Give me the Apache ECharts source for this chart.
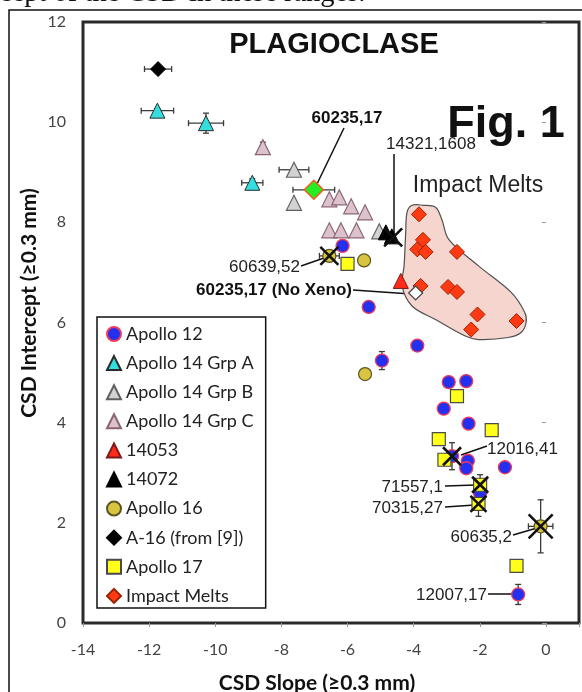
<!DOCTYPE html>
<html><head><meta charset="utf-8">
<script src="https://cdn.jsdelivr.net/npm/echarts@6/dist/echarts.min.js"></script>
<style>html,body{margin:0;padding:0;background:#fff}#c{width:582px;height:692px}</style>
</head><body><div id="c"></div>
<script>
// ---------- data (CSD slope, CSD intercept) ----------
const xTicks = [-14, -12, -10, -8, -6, -4, -2, 0];
const yTicks = [0, 2, 4, 6, 8, 10, 12];
const legendNames = ['Apollo 12', 'Apollo 14 Grp A', 'Apollo 14 Grp B', 'Apollo 14 Grp C', '14053', '14072', 'Apollo 16', 'A-16 (from [9])', 'Apollo 17', 'Impact Melts'];

const apollo12 = [[-6.15,7.53],[-5.36,6.31],[-3.89,5.54],[-4.96,5.24],[-2.94,4.81],[-2.41,4.83],[-3.09,4.28],[-2.34,3.98],[-2.84,3.33],[-2.36,3.24],[-2.41,3.09],[-1.24,3.11],[-1.99,2.59],[-0.84,0.57]];
const apollo14A = [[-11.75,10.23],[-10.28,9.98],[-8.88,8.79]];
const apollo14B = [[-7.62,9.05],[-7.62,8.39],[-5.04,7.82]];
const apollo14C = [[-8.56,9.5],[-6.55,8.46],[-6.25,8.5],[-5.89,8.32],[-5.47,8.2],[-6.55,7.84],[-6.2,7.84],[-5.73,7.84]];
const s14053 = [[-4.39,6.83]];
const s14072 = [[-4.84,7.8],[-4.66,7.72]];
const apollo16 = [[-6.55,7.33],[-5.5,7.24],[-5.47,4.97],[-0.16,1.93]];
const a16From9 = [[-11.73,11.06]];
const apollo17 = [[-6.0,7.17],[-2.69,4.53],[-1.64,3.85],[-3.24,3.67],[-3.07,3.26],[-1.99,2.76],[-2.04,2.38],[-0.89,1.14]];
const impactMelts = [[-3.84,8.16],[-3.72,7.65],[-3.89,7.46],[-3.64,7.41],[-2.69,7.41],[-3.79,6.73],[-2.96,6.71],[-2.69,6.61],[-2.07,6.16],[-2.26,5.86],[-0.89,6.03]];
const sample60235 = [[-7.02,8.65]];
const sample60235NoXeno = [[-3.94,6.59]];
// samples marked with a cross: 60639,52 / 71557,1 / 70315,27 / 12016,41 / 14321,1608 / 60635,2
const crossed = [[-6.55,7.33],[-1.99,2.76],[-2.04,2.38],[-2.84,3.33],[-4.62,7.7],[-0.16,1.93]];
// error bars: [x, y, xErr, yErr]
const errorBars = [[-11.73,11.06,0.41,0],[-11.75,10.23,0.49,0.04],[-10.28,9.98,0.53,0.2],[-8.88,8.79,0.32,0.08],[-7.62,9.05,0.45,0],[-7.02,8.65,0.63,0],[-6.55,7.33,0.3,0],[-4.96,5.24,0,0.18],[-2.84,3.33,0.15,0.27],[-1.99,2.76,0,0.2],[-2.04,2.38,0,0.25],[-0.16,1.93,0.37,0.53],[-0.84,0.57,0,0.2],[-8.56,9.5,0,0.1]];
// impact-melt field outline
const meltField = [[-4.05,8.34],[-3.7,8.34],[-3.34,8.3],[-3.15,8.06],[-2.94,7.66],[-2.04,7.13],[-1.05,6.6],[-0.64,6.2],[-0.6,6.0],[-0.75,5.8],[-1.14,5.7],[-2.04,5.66],[-2.44,5.73],[-3.34,6.06],[-4.05,6.33],[-4.35,6.73],[-4.29,7.13],[-4.24,7.8],[-4.2,8.2]];

// ---------- chart ----------
const chart = echarts.init(document.getElementById('c'), null, {renderer: 'canvas'});
const crossSizes = [9, 8, 8, 9, 9, 12];

function sc(name, data, symbol, size, fill, stroke, bw, z) {
  return {type: 'scatter', name, data, symbol, symbolSize: size, z: z || 3,
    itemStyle: {color: fill, borderColor: stroke, borderWidth: bw, opacity: 1}};
}

const option = {
  animation: false,
  backgroundColor: '#fff',
  grid: {left: 83, right: 2, top: 22, bottom: 69, show: true, borderColor: '#2a2a2a', borderWidth: 3, backgroundColor: '#fff'},
  xAxis: {type: 'value', min: -14, max: 1, interval: 2,
    axisLine: {show: false}, splitLine: {show: false},
    axisTick: {show: true, length: 4, lineStyle: {color: '#999'}},
    axisLabel: {margin: 19, fontFamily: 'Lato', fontSize: 16, color: '#444',
      formatter: v => xTicks.indexOf(v) >= 0 ? String(v) : ''}},
  yAxis: {type: 'value', min: 0, max: 12, interval: 2,
    axisLine: {show: false}, splitLine: {show: false},
    axisTick: {show: true, length: 4, lineStyle: {color: '#999'}},
    axisLabel: {margin: 17, fontFamily: 'Lato', fontSize: 16, color: '#444',
      formatter: v => yTicks.indexOf(v) >= 0 ? String(v) : ''}},
  legend: {orient: 'vertical', left: 97, top: 317, padding: [8, 12, 3, 9], itemGap: 11.1,
    itemWidth: 14, itemHeight: 14, borderColor: '#111', borderWidth: 1.5, backgroundColor: '#fff',
    textStyle: {fontFamily: 'Lato', fontSize: 18, color: '#222'}, data: legendNames, selectedMode: false},
  series: [
    {type: 'custom', name: 'field', data: [meltField[0]], z: 1, silent: true,
      renderItem: (p, api) => ({type: 'polygon', shape: {points: meltField.map(q => api.coord(q)), smooth: 0.35},
        style: {fill: '#f6d5cf', stroke: '#505050', lineWidth: 1.2}})},
    {type: 'custom', name: 'err', data: errorBars, z: 2, silent: true, dimensions: ['x','y','xe','ye'], encode: {x: 0, y: 1},
      renderItem: (p, api) => {
        const x = api.value(0), y = api.value(1), xe = api.value(2), ye = api.value(3);
        const st = {stroke: '#3a3a3a', lineWidth: 1.3};
        const ch = [];
        const L = (a, b, c, d) => ch.push({type: 'line', shape: {x1: a, y1: b, x2: c, y2: d}, style: st});
        if (xe > 0) {
          const a = api.coord([x - xe, y]), b = api.coord([x + xe, y]);
          L(a[0], a[1], b[0], b[1]); L(a[0], a[1] - 3, a[0], a[1] + 3); L(b[0], b[1] - 3, b[0], b[1] + 3);
        }
        if (ye > 0) {
          const a = api.coord([x, y - ye]), b = api.coord([x, y + ye]);
          L(a[0], a[1], b[0], b[1]); L(a[0] - 3, a[1], a[0] + 3, a[1]); L(b[0] - 3, b[1], b[0] + 3, b[1]);
        }
        return {type: 'group', children: ch};
      }},
    sc('Apollo 12', apollo12, 'circle', 13, '#2430f0', '#f03a5a', 1.3),
    sc('Apollo 14 Grp A', apollo14A, 'triangle', 15, '#35dede', '#2a2a2a', 1),
    sc('Apollo 14 Grp B', apollo14B, 'triangle', 15, '#d2d2d2', '#606060', 1.2),
    sc('Apollo 14 Grp C', apollo14C, 'triangle', 15, '#dcc2cc', '#8a6474', 1.2),
    sc('14053', s14053, 'triangle', 15, '#ff2a1a', '#7a1a1a', 1),
    sc('14072', s14072, 'triangle', 15, '#000', '#000', 1),
    sc('Apollo 16', apollo16, 'circle', 13, '#d8c440', '#5a5420', 1.2),
    sc('A-16 (from [9])', a16From9, 'diamond', 15, '#000', '#000', 1),
    sc('Apollo 17', apollo17, 'rect', 13, '#ffff1a', '#4a4a4a', 1.2),
    sc('Impact Melts', impactMelts, 'diamond', 15, '#ff3a12', '#992200', 1),
    sc('60235,17', sample60235, 'diamond', 19, '#22ee22', '#ff5522', 1.5, 4),
    sc('60235,17 (No Xeno)', sample60235NoXeno, 'diamond', 14, '#ffffff', '#444', 1.2, 4),
    {type: 'custom', name: 'cross', data: crossed, z: 5, silent: true,
      renderItem: (p, api) => {
        const c = api.coord([api.value(0), api.value(1)]);
        const s = crossSizes[p.dataIndex];
        const st = {stroke: '#111', lineWidth: 2.6};
        return {type: 'group', children: [
          {type: 'line', shape: {x1: c[0] - s, y1: c[1] - s, x2: c[0] + s, y2: c[1] + s}, style: st},
          {type: 'line', shape: {x1: c[0] - s, y1: c[1] + s, x2: c[0] + s, y2: c[1] - s}, style: st}]};
      }}
  ],
  graphic: [
    {type: 'rect', z: -10, shape: {x: 9, y: 10, width: 600, height: 720}, style: {fill: null, stroke: '#111', lineWidth: 1.5}},
    {type: 'text', x: -1, y: 8.5, style: {text: 'cept of the CSD in these ranges.', fontFamily: 'Liberation Serif', fontSize: 28.5, fill: '#111', verticalAlign: 'bottom'}},
    {type: 'text', x: 334, y: 45, style: {text: 'PLAGIOCLASE', fontFamily: 'Liberation Sans', fontWeight: 'bold', fontSize: 29, fill: '#111', align: 'center', verticalAlign: 'middle'}},
    {type: 'text', x: 506, y: 102, style: {text: 'Fig. 1', fontFamily: 'Liberation Sans', fontWeight: 'bold', fontSize: 45, fill: '#111', align: 'center', verticalAlign: 'alphabetic'}},
    {type: 'text', x: 317, y: 683, style: {text: 'CSD Slope (≥0.3 mm)', fontFamily: 'Lato', fontWeight: 'bold', fontSize: 21, fill: '#111', align: 'center', verticalAlign: 'middle'}},
    {type: 'text', x: 29, y: 303, rotation: Math.PI / 2, style: {text: 'CSD Intercept (≥0.3 mm)', fontFamily: 'Lato', fontWeight: 'bold', fontSize: 21, fill: '#111', align: 'center', verticalAlign: 'middle'}},
    // annotations
    {type: 'text', x: 347, y: 118, style: {text: '60235,17', fontFamily: 'Liberation Sans', fontWeight: 'bold', fontSize: 17, fill: '#111', align: 'center', verticalAlign: 'middle'}},
    {type: 'line', shape: {x1: 344, y1: 128, x2: 316, y2: 186}, style: {stroke: '#111', lineWidth: 1.5}},
    {type: 'text', x: 431, y: 144, style: {text: '14321,1608', fontFamily: 'Liberation Sans', fontSize: 17, fill: '#222', align: 'center', verticalAlign: 'middle'}},
    {type: 'line', shape: {x1: 394, y1: 154, x2: 394, y2: 236}, style: {stroke: '#111', lineWidth: 1.5}},
    {type: 'text', x: 478, y: 186, style: {text: 'Impact Melts', fontFamily: 'Liberation Sans', fontSize: 23, fill: '#222', align: 'center', verticalAlign: 'middle'}},
    {type: 'text', x: 300, y: 267, style: {text: '60639,52', fontFamily: 'Liberation Sans', fontSize: 17, fill: '#222', align: 'right', verticalAlign: 'middle'}},
    {type: 'line', shape: {x1: 301, y1: 266, x2: 324, y2: 258}, style: {stroke: '#111', lineWidth: 1.5}},
    {type: 'text', x: 352, y: 290, style: {text: '60235,17 (No Xeno)', fontFamily: 'Liberation Sans', fontWeight: 'bold', fontSize: 17, fill: '#111', align: 'right', verticalAlign: 'middle'}},
    {type: 'line', shape: {x1: 353, y1: 290, x2: 411, y2: 294}, style: {stroke: '#111', lineWidth: 1.5}},
    {type: 'text', x: 487, y: 449, style: {text: '12016,41', fontFamily: 'Liberation Sans', fontSize: 17, fill: '#222', align: 'left', verticalAlign: 'middle'}},
    {type: 'line', shape: {x1: 487, y1: 446, x2: 461, y2: 455}, style: {stroke: '#111', lineWidth: 1.5}},
    {type: 'text', x: 443, y: 487, style: {text: '71557,1', fontFamily: 'Liberation Sans', fontSize: 17, fill: '#222', align: 'right', verticalAlign: 'middle'}},
    {type: 'line', shape: {x1: 445, y1: 486, x2: 476, y2: 485}, style: {stroke: '#111', lineWidth: 1.5}},
    {type: 'text', x: 443, y: 508, style: {text: '70315,27', fontFamily: 'Liberation Sans', fontSize: 17, fill: '#222', align: 'right', verticalAlign: 'middle'}},
    {type: 'line', shape: {x1: 445, y1: 507, x2: 475, y2: 505}, style: {stroke: '#111', lineWidth: 1.5}},
    {type: 'text', x: 512, y: 537, style: {text: '60635,2', fontFamily: 'Liberation Sans', fontSize: 17, fill: '#222', align: 'right', verticalAlign: 'middle'}},
    {type: 'line', shape: {x1: 513, y1: 535, x2: 537, y2: 528}, style: {stroke: '#111', lineWidth: 1.5}},
    {type: 'text', x: 487, y: 595, style: {text: '12007,17', fontFamily: 'Liberation Sans', fontSize: 17, fill: '#222', align: 'right', verticalAlign: 'middle'}},
    {type: 'line', shape: {x1: 488, y1: 594, x2: 513, y2: 594}, style: {stroke: '#111', lineWidth: 1.5}}
  ]
};
chart.setOption(option);
</script>
</body></html>
